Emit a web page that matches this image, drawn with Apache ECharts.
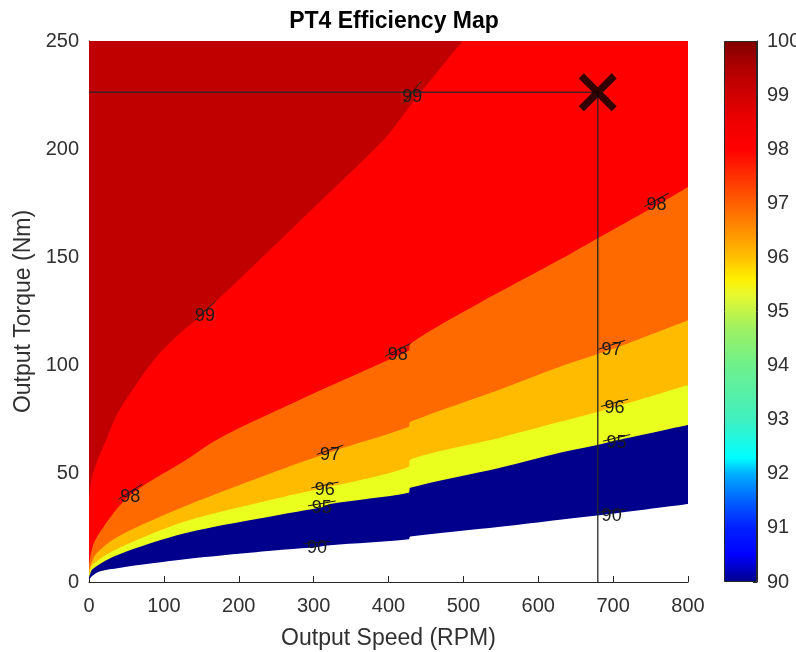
<!DOCTYPE html>
<html>
<head>
<meta charset="utf-8">
<title>PT4 Efficiency Map</title>
<script src="https://cdn.jsdelivr.net/npm/echarts@6.0.0/dist/echarts.min.js"></script>
<style>
  html, body { margin: 0; padding: 0; background: #ffffff; }
  #chart { width: 796px; height: 652px; }
</style>
</head>
<body>
<div id="chart"></div>
<script>
// Iso-efficiency contour lines: [speed (RPM), torque (Nm)]
const contour90 = [[0, 1], [5, 3], [15, 5], [40, 6.5], [82, 8.5], [128, 10.5], [200, 13], [262, 15], [305, 16.2], [322, 17], [427, 19.8], [429, 21], [549, 25.5], [629, 28.8], [698, 31.5], [800, 36]];
const contour95 = [[0, 2], [5, 6], [39, 12.6], [128, 22.5], [262, 31.5], [311, 34.5], [322, 36], [427, 41.2], [429, 43.5], [549, 52.8], [629, 59.7], [680, 63.4], [705, 65.5], [800, 72.6]];
const contour96 = [[0, 3], [5, 8], [39, 15.5], [128, 28], [262, 39.5], [315, 43.5], [427, 53.3], [429, 56.5], [549, 66.7], [629, 74], [702, 80.8], [800, 91]];
const contour97 = [[0, 5], [8.5, 12.6], [39, 21], [128, 35], [262, 52.7], [322, 60], [427, 71.7], [429, 74], [549, 89], [629, 99.5], [698, 107.5], [800, 121]];
const contour98 = [[0, 8], [8.5, 19.5], [53, 39.5], [128, 56], [172, 66], [268, 82], [412, 104.5], [427, 107], [429, 110], [522, 129], [629, 149], [680, 159], [758, 174], [800, 182.5]];
const contour99 = [[0, 38], [3, 47], [10, 55], [22, 65], [40, 79], [95, 106], [155, 125], [222, 147], [300, 173], [395, 205], [431, 221], [499, 250]];

// Efficiency level (%) of each contour, lowest first
const levels = [90, 95, 96, 97, 98, 99];
// Fill colour of the band that lies above each contour
const bandColors = ['#00008c', '#ebff1e', '#ffbb00', '#ff6a00', '#ff0000', '#c00000'];

// Inline contour labels: [speed, torque, level]
const contourLabels = [
  [431.6, 224, 99], [155, 123, 99],
  [55, 39.4, 98], [412.5, 105, 98], [758, 174.3, 98],
  [322, 58.8, 97], [698, 107.3, 97],
  [315, 42.5, 96], [702, 80.5, 96],
  [311, 34, 95], [704.6, 64.3, 95],
  [304.6, 15.9, 90], [698, 30.6, 90]
];

// Operating point: [speed, torque]
const operatingPoint = [679.5, 226.3];

// Colour bar: range and colour stops [efficiency, colour]
const colorbarRange = [90, 100];
const colorbarStops = [
  [90, '#00008b'], [90.5, '#0000ff'], [91, '#0020ff'], [91.5, '#0060ff'],
  [92, '#00b0ff'], [92.3, '#00ffff'], [93, '#40f0c0'], [94, '#6ef08c'],
  [94.7, '#a0f060'], [95.3, '#e6f830'], [95.6, '#fff000'], [96, '#ffc000'],
  [96.5, '#ff9000'], [97, '#ff6000'], [97.5, '#ff3000'], [98, '#ff0000'],
  [98.5, '#f00000'], [99, '#d00000'], [99.5, '#b00000'], [100, '#800000']
];

const contours = [contour90, contour95, contour96, contour97, contour98, contour99];
const contourByLevel = {};
levels.forEach((lv, i) => { contourByLevel[lv] = contours[i]; });

const FONT = 'Liberation Sans, Arial, Helvetica, sans-serif';
const TEXT = '#303030';

const chart = echarts.init(document.getElementById('chart'), null, { renderer: 'canvas' });

// Filled bands: each contour fills upward to the top of the axes,
// painted from the lowest level to the highest.
const bandSeries = contours.map((pts, i) => ({
  type: 'line',
  name: String(levels[i]),
  xAxisIndex: 0, yAxisIndex: 0,
  data: pts,
  showSymbol: false,
  smooth: 0.3,
  lineStyle: { width: 0, color: bandColors[i] },
  areaStyle: { color: bandColors[i], opacity: 1, origin: 'end' },
  silent: true,
  z: 2
}));

function segmentAngle(curve, n, api) {
  let i = 0;
  while (i < curve.length - 2 && curve[i + 1][0] < n) i++;
  let a = i, b = i + 1;
  while (curve[b][0] - curve[a][0] < 20 && (a > 0 || b < curve.length - 1)) {
    if (a > 0) a--;
    if (b < curve.length - 1) b++;
  }
  const p1 = api.coord(curve[a]);
  const p2 = api.coord(curve[b]);
  return Math.atan2(p2[1] - p1[1], p2[0] - p1[0]);
}

const labelSeries = {
  type: 'custom',
  xAxisIndex: 0, yAxisIndex: 0,
  data: contourLabels,
  encode: { x: 0, y: 1 },
  silent: true,
  z: 5,
  renderItem: function (params, api) {
    const n = api.value(0), t = api.value(1), lv = api.value(2);
    const p = api.coord([n, t]);
    const ang = segmentAngle(contourByLevel[lv], n, api);
    const half = 14;
    const cx = p[0], cy = p[1] - 5;
    return {
      type: 'group',
      children: [
        {
          type: 'line',
          shape: {
            x1: cx - half * Math.cos(ang), y1: cy - half * Math.sin(ang),
            x2: cx + half * Math.cos(ang), y2: cy + half * Math.sin(ang)
          },
          style: { stroke: '#1a1a1a', lineWidth: 1 }
        },
        {
          type: 'text',
          style: {
            x: p[0], y: p[1], text: String(lv),
            align: 'center', verticalAlign: 'middle',
            fill: '#1a1a1a', fontSize: 18, fontFamily: FONT
          }
        }
      ]
    };
  }
};

// Guide lines from the axes to the operating point
const guideSeries = {
  type: 'line',
  xAxisIndex: 0, yAxisIndex: 0,
  data: [[0, operatingPoint[1]], operatingPoint, [operatingPoint[0], 0]],
  showSymbol: false,
  lineStyle: { color: '#262626', width: 1.5, opacity: 0.85 },
  silent: true,
  z: 6
};

const a = 2.7;
const crossPath = 'path://M' + a + ',0 L10,' + (10 - a) + ' L' + (20 - a) + ',0 L20,' + a +
  ' L' + (10 + a) + ',10 L20,' + (20 - a) + ' L' + (20 - a) + ',20 L10,' + (10 + a) +
  ' L' + a + ',20 L0,' + (20 - a) + ' L' + (10 - a) + ',10 L0,' + a + ' Z';

const markerSeries = {
  type: 'scatter',
  xAxisIndex: 0, yAxisIndex: 0,
  data: [operatingPoint],
  symbol: crossPath,
  symbolSize: 38,
  itemStyle: { color: '#000000' },
  silent: true,
  z: 7
};

// Colour bar drawn as a bar spanning the efficiency range
const span = colorbarRange[1] - colorbarRange[0];
const gradient = new echarts.graphic.LinearGradient(0, 1, 0, 0,
  colorbarStops.map(s => ({ offset: (s[0] - colorbarRange[0]) / span, color: s[1] })));

const colorbarBase = {
  type: 'bar', xAxisIndex: 1, yAxisIndex: 1, stack: 'cb',
  data: [colorbarRange[0]], barWidth: '100%',
  itemStyle: { color: 'transparent' }, silent: true
};
const colorbarFill = {
  type: 'bar', xAxisIndex: 1, yAxisIndex: 1, stack: 'cb',
  data: [span], barWidth: '100%',
  itemStyle: { color: gradient, borderColor: '#262626', borderWidth: 1 }, silent: true
};

chart.setOption({
  backgroundColor: '#ffffff',
  animation: false,
  title: {
    text: 'PT4 Efficiency Map',
    left: 389, top: 5, textAlign: 'center',
    textStyle: { fontFamily: FONT, fontSize: 23, fontWeight: 'bold', color: '#000' }
  },
  grid: [
    { left: 89, top: 41, width: 599, height: 541, containLabel: false, outerBoundsMode: 'none' },
    { left: 724, top: 41, width: 33, height: 541, containLabel: false, outerBoundsMode: 'none' }
  ],
  xAxis: [
    {
      gridIndex: 0, type: 'value', min: 0, max: 800, interval: 100,
      name: 'Output Speed (RPM)', nameLocation: 'middle', nameGap: 45,
      nameTextStyle: { fontFamily: FONT, fontSize: 23, color: TEXT },
      axisLine: { show: true, onZero: false, lineStyle: { color: '#262626', width: 1 } },
      axisTick: { show: true, inside: true, length: 6, lineStyle: { color: '#262626' } },
      axisLabel: { fontFamily: FONT, fontSize: 20, color: TEXT, margin: 14 },
      splitLine: { show: false }
    },
    { gridIndex: 1, type: 'category', data: [''], show: false }
  ],
  yAxis: [
    {
      gridIndex: 0, type: 'value', min: 0, max: 250, interval: 50,
      name: 'Output Torque (Nm)', nameLocation: 'middle', nameGap: 52,
      nameTextStyle: { fontFamily: FONT, fontSize: 23, color: TEXT },
      axisLine: { show: true, onZero: false, lineStyle: { color: '#262626', width: 1 } },
      axisTick: { show: true, inside: true, length: 6, lineStyle: { color: '#262626' } },
      axisLabel: { fontFamily: FONT, fontSize: 20, color: TEXT, margin: 10 },
      splitLine: { show: false }
    },
    {
      gridIndex: 1, type: 'value', position: 'right',
      min: colorbarRange[0], max: colorbarRange[1], interval: 1,
      axisLine: { show: true, lineStyle: { color: '#262626', width: 1 } },
      axisTick: { show: true, inside: true, length: 4, lineStyle: { color: '#262626' } },
      axisLabel: { fontFamily: FONT, fontSize: 20, color: TEXT, margin: 10 },
      splitLine: { show: false }
    }
  ],
  series: bandSeries.concat([labelSeries, guideSeries, markerSeries, colorbarBase, colorbarFill])
});
</script>
</body>
</html>
